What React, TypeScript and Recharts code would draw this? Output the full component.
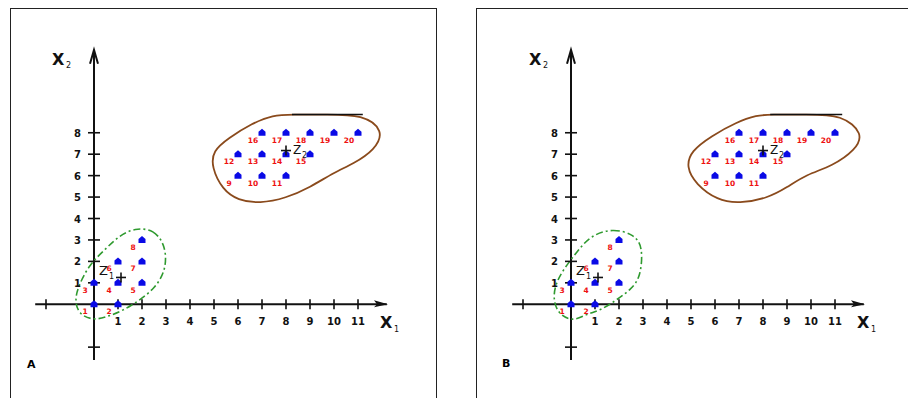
import { ComposedChart, XAxis, YAxis, Scatter, Line, ReferenceLine } from 'recharts';

// axis ticks
const xTickValues = [-2, 1, 2, 3, 4, 5, 6, 7, 8, 9, 10, 11];
const yTickValues = [-2, 1, 2, 3, 4, 5, 6, 7, 8];
const xLabelValues = [1, 2, 3, 4, 5, 6, 7, 8, 9, 10, 11];
const yLabelValues = [1, 2, 3, 4, 5, 6, 7, 8];

// sample points
const cluster1 = [
  { x: 0, y: 0, n: '1' },
  { x: 1, y: 0, n: '2' },
  { x: 0, y: 1, n: '3' },
  { x: 1, y: 1, n: '4' },
  { x: 2, y: 1, n: '5' },
  { x: 1, y: 2, n: '6' },
  { x: 2, y: 2, n: '7' },
  { x: 2, y: 3, n: '8' },
];
const cluster2 = [
  { x: 6, y: 6, n: '9' },
  { x: 7, y: 6, n: '10' },
  { x: 8, y: 6, n: '11' },
  { x: 6, y: 7, n: '12' },
  { x: 7, y: 7, n: '13' },
  { x: 8, y: 7, n: '14' },
  { x: 9, y: 7, n: '15' },
  { x: 7, y: 8, n: '16' },
  { x: 8, y: 8, n: '17' },
  { x: 9, y: 8, n: '18' },
  { x: 10, y: 8, n: '19' },
  { x: 11, y: 8, n: '20' },
];

const z1 = [{ x: 1.125, y: 1.25 }];
const z2 = [{ x: 8, y: 7.17 }];

// cluster outlines, panel A
const greenA = [
  { x: 1.7, y: 3.55 }, { x: 2.5, y: 3.5 }, { x: 3.0, y: 2.7 }, { x: 3.0, y: 1.6 },
  { x: 2.55, y: 0.75 }, { x: 1.85, y: 0.15 }, { x: 1.2, y: -0.3 }, { x: 0.5, y: -0.6 },
  { x: -0.05, y: -0.75 }, { x: -0.65, y: -0.45 }, { x: -0.8, y: 0.2 }, { x: -0.65, y: 0.85 },
  { x: -0.2, y: 1.85 }, { x: 0.5, y: 2.6 }, { x: 1.05, y: 3.2 },
];
const brownA = [
  { x: 8.25, y: 8.85 }, { x: 9.7, y: 8.85 }, { x: 11.2, y: 8.85 }, { x: 12.1, y: 8.1 },
  { x: 11.7, y: 7.2 }, { x: 10.8, y: 6.55 }, { x: 10.0, y: 6.15 }, { x: 9.0, y: 5.45 },
  { x: 8.0, y: 4.95 }, { x: 6.9, y: 4.7 }, { x: 6.0, y: 4.85 }, { x: 5.35, y: 5.35 },
  { x: 4.9, y: 6.4 }, { x: 4.95, y: 7.15 }, { x: 5.6, y: 7.75 }, { x: 6.6, y: 8.45 },
  { x: 7.45, y: 8.82 },
];
const topA = [{ x: 8.25, y: 8.85 }, { x: 11.2, y: 8.85 }];

// cluster outlines, panel B
const greenB = [
  { x: 0.8, y: 3.2 }, { x: 1.75, y: 3.55 }, { x: 2.65, y: 3.25 }, { x: 3.0, y: 2.65 },
  { x: 2.9, y: 1.25 }, { x: 2.5, y: 0.7 }, { x: 1.9, y: 0.2 }, { x: 1.2, y: -0.3 },
  { x: 0.65, y: -0.45 }, { x: 0.1, y: -0.8 }, { x: -0.5, y: -0.5 }, { x: -0.75, y: 0.2 },
  { x: -0.65, y: 0.95 }, { x: -0.3, y: 1.65 }, { x: 0.25, y: 2.45 },
];
const brownB = [
  { x: 8.3, y: 8.85 }, { x: 9.8, y: 8.85 }, { x: 11.3, y: 8.85 }, { x: 12.2, y: 7.95 },
  { x: 11.85, y: 7.2 }, { x: 10.9, y: 6.45 }, { x: 9.8, y: 6.05 }, { x: 9.0, y: 5.45 },
  { x: 8.2, y: 4.95 }, { x: 7.0, y: 4.7 }, { x: 6.1, y: 4.85 }, { x: 5.2, y: 5.6 },
  { x: 4.8, y: 6.4 }, { x: 5.0, y: 7.15 }, { x: 5.85, y: 7.85 }, { x: 6.9, y: 8.5 },
  { x: 7.75, y: 8.82 },
];
const topB = [{ x: 8.3, y: 8.85 }, { x: 11.3, y: 8.85 }];

const xTicks = xTickValues.map((x) => ({ x, y: 0 }));
const yTicks = yTickValues.map((y) => ({ x: 0, y }));
const xLabels = xLabelValues.map((x) => ({ x, y: 0 }));
const yLabels = yLabelValues.map((y) => ({ x: 0, y }));
const allPoints = [...cluster1, ...cluster2];

const font = 'DejaVu Sans, Arial, sans-serif';

const XTick = ({ cx, cy }: any) => (
  <line x1={cx} x2={cx} y1={cy - 5} y2={cy + 5} stroke="#111" strokeWidth={1.6} />
);
const YTick = ({ cx, cy }: any) => (
  <line x1={cx - 6} x2={cx + 6} y1={cy} y2={cy} stroke="#111" strokeWidth={1.6} />
);
const XLabel = ({ cx, cy, payload }: any) => (
  <text x={cx} y={cy + 21} textAnchor="middle" fontSize={10} fontWeight="bold" fontFamily={font} fill="#111">
    {payload.x}
  </text>
);
const YLabel = ({ cx, cy, payload }: any) => (
  <text x={cx - 13} y={cy + 4} textAnchor="end" fontSize={10} fontWeight="bold" fontFamily={font} fill="#111">
    {payload.y}
  </text>
);
const Dot = ({ cx, cy }: any) => (
  <path
    d={`M${cx - 3.5},${cy + 3} L${cx - 3.5},${cy - 1} L${cx},${cy - 4} L${cx + 3.5},${cy - 1} L${cx + 3.5},${cy + 3} Z`}
    fill="#0a0ae6"
  />
);
const NumLabel = ({ cx, cy, payload }: any) => (
  <text x={cx - 9} y={cy + 10} textAnchor="middle" fontSize={7.5} fontWeight="bold" fontFamily={font} fill="#ee1111">
    {payload.n}
  </text>
);
const Plus = ({ cx, cy }: any) => (
  <g stroke="#111" strokeWidth={1.6}>
    <line x1={cx - 5} x2={cx + 5} y1={cy} y2={cy} />
    <line x1={cx} x2={cx} y1={cy - 5} y2={cy + 5} />
  </g>
);
const Z1Mark = (p: any) => (
  <g>
    <Plus {...p} />
    <text x={p.cx - 22} y={p.cy - 2} fontSize={13} fontFamily={font} fill="#111">Z</text>
    <text x={p.cx - 12} y={p.cy + 2} fontSize={8} fontFamily={font} fill="#111">1</text>
  </g>
);
const Z2Mark = (p: any) => (
  <g>
    <Plus {...p} />
    <text x={p.cx + 7} y={p.cy + 3} fontSize={12} fontFamily={font} fill="#111">Z</text>
    <text x={p.cx + 16} y={p.cy + 7} fontSize={8} fontFamily={font} fill="#111">2</text>
  </g>
);
const XEnd = ({ cx, cy }: any) => (
  <g>
    <path d={`M${cx},${cy} L${cx - 14},${cy - 4} L${cx - 11},${cy} L${cx - 14},${cy + 3} Z`} fill="#111" />
    <text x={cx - 8} y={cy + 24} fontSize={16} fontWeight="bold" fontFamily={font} fill="#111">X</text>
    <text x={cx + 6} y={cy + 28} fontSize={8} fontFamily={font} fill="#111">1</text>
  </g>
);
const YEnd = ({ cx, cy }: any) => (
  <g>
    <path d={`M${cx - 4},${cy + 14} L${cx},${cy} L${cx + 4},${cy + 14}`} fill="none" stroke="#111" strokeWidth={2} />
    <text x={cx - 42} y={cy + 15} fontSize={16} fontWeight="bold" fontFamily={font} fill="#111">X</text>
    <text x={cx - 28} y={cy + 18} fontSize={8} fontFamily={font} fill="#111">2</text>
  </g>
);

interface PanelProps {
  left: number;
  marginLeft: number;
  marginRight: number;
  green: { x: number; y: number }[];
  brown: { x: number; y: number }[];
  top: { x: number; y: number }[];
}

function Panel({ left, marginLeft, marginRight, green, brown, top }: PanelProps) {
  return (
    <div style={{ position: 'absolute', left, top: 0 }}>
      <ComposedChart width={454} height={398} margin={{ top: 47, right: marginRight, bottom: 38, left: marginLeft }}>
        <XAxis type="number" dataKey="x" domain={[-2.5, 12.5]} hide />
        <YAxis type="number" dataKey="y" domain={[-2.6, 12]} hide width={0} />
        <ReferenceLine segment={[{ x: -2.45, y: 0 }, { x: 12.2, y: 0 }]} stroke="#111" strokeWidth={2} />
        <ReferenceLine segment={[{ x: 0, y: -2.6 }, { x: 0, y: 11.85 }]} stroke="#111" strokeWidth={2} />
        <Line data={green} dataKey="y" type="basisClosed" stroke="#2f9a2f" strokeWidth={1.6} strokeDasharray="7 3 2 3" dot={false} isAnimationActive={false} />
        <Line data={brown} dataKey="y" type="basisClosed" stroke="#8a4a1c" strokeWidth={1.8} dot={false} isAnimationActive={false} />
        <Line data={top} dataKey="y" type="linear" stroke="#111" strokeWidth={1.6} dot={false} isAnimationActive={false} />
        <Scatter data={xTicks} shape={XTick} isAnimationActive={false} />
        <Scatter data={yTicks} shape={YTick} isAnimationActive={false} />
        <Scatter data={xLabels} shape={XLabel} isAnimationActive={false} />
        <Scatter data={yLabels} shape={YLabel} isAnimationActive={false} />
        <Scatter data={[{ x: 12.25, y: 0 }]} shape={XEnd} isAnimationActive={false} />
        <Scatter data={[{ x: 0, y: 11.87 }]} shape={YEnd} isAnimationActive={false} />
        <Scatter data={allPoints} shape={NumLabel} isAnimationActive={false} />
        <Scatter data={allPoints} shape={Dot} isAnimationActive={false} />
        <Scatter data={z1} shape={Z1Mark} isAnimationActive={false} />
        <Scatter data={z2} shape={Z2Mark} isAnimationActive={false} />
      </ComposedChart>
    </div>
  );
}

export default function App() {
  return (
    <div style={{ position: 'fixed', left: 0, top: 0, width: 908, height: 398, background: '#fff', overflow: 'hidden' }}>
      <div style={{ position: 'absolute', left: 10, top: 8, width: 425, height: 400, border: '1.5px solid #222' }} />
      <div style={{ position: 'absolute', left: 476, top: 8, width: 440, height: 400, border: '1.5px solid #222' }} />
      <Panel left={0} marginLeft={34} marginRight={60} green={greenA} brown={brownA} top={topA} />
      <Panel left={454} marginLeft={57} marginRight={37} green={greenB} brown={brownB} top={topB} />
      <div style={{ position: 'absolute', left: 27, top: 358, fontFamily: font, fontWeight: 'bold', fontSize: 11 }}>A</div>
      <div style={{ position: 'absolute', left: 502, top: 357, fontFamily: font, fontWeight: 'bold', fontSize: 11 }}>B</div>
    </div>
  );
}
